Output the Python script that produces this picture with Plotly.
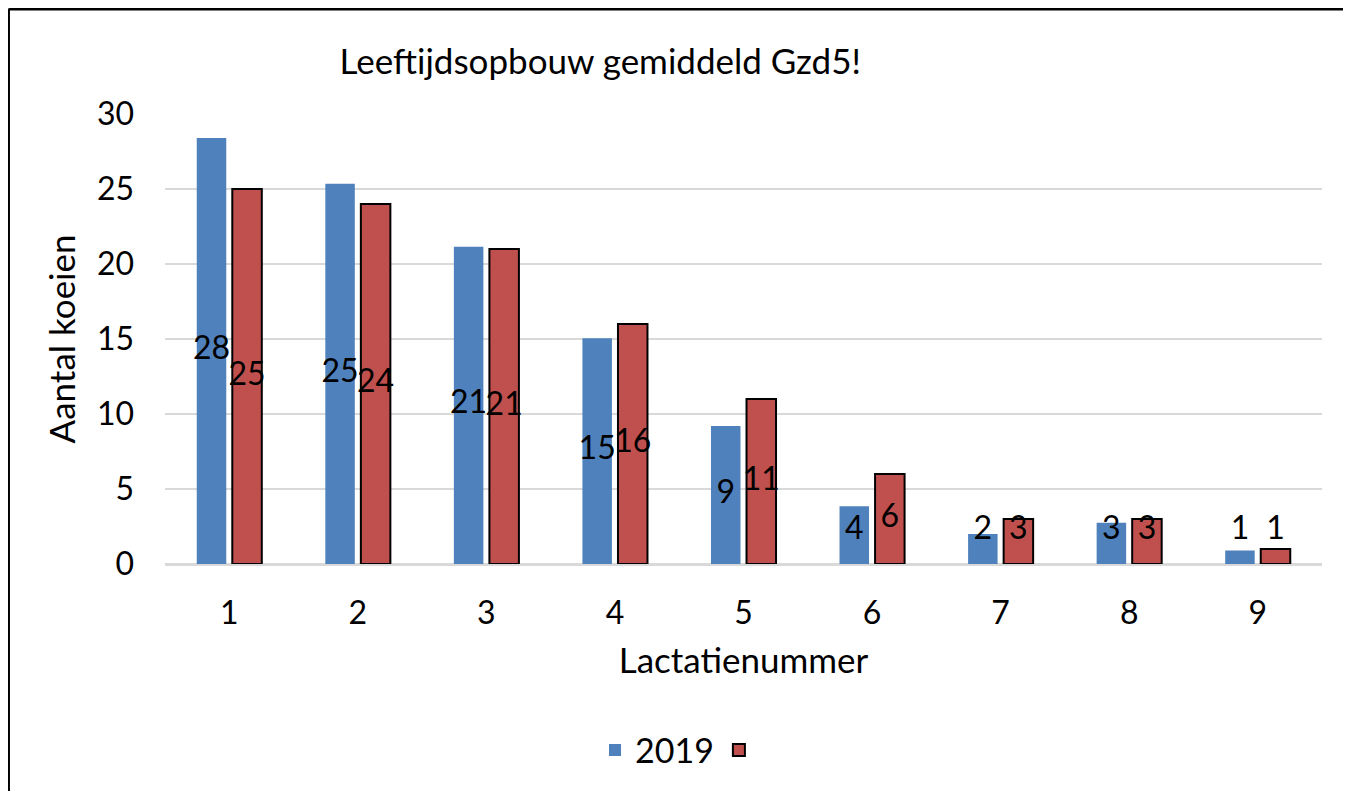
import numpy as np
import plotly.graph_objects as go

categories = ["1", "2", "3", "4", "5", "6", "7", "8", "9"]
values_2019 = [28.4, 25.35, 21.15, 15.05, 9.2, 3.85, 2.0, 2.75, 0.9]
values_other = [25, 24, 21, 16, 11, 6, 3, 3, 1]
y_ticks = [0, 5, 10, 15, 20, 25, 30]

FONT = "Lato"
BLUE = "#4F81BD"
RED = "#C0504D"

fig = go.Figure()
fig.add_trace(go.Bar(x=categories, y=values_2019, name="2019", marker=dict(color=BLUE, line=dict(width=0)),
                     offsetgroup="a", hoverinfo="skip"))
fig.add_trace(go.Bar(x=categories, y=values_other, name="", marker=dict(color=RED, line=dict(color="black", width=2)),
                     offsetgroup="b", hoverinfo="skip"))

# data labels, centred in bar but kept above a minimum height
for vals, grp in ((values_2019, "a"), (values_other, "b")):
    arr = np.array(vals, dtype=float)
    fig.add_trace(go.Scatter(x=categories, y=np.maximum(arr / 2, 2.2), mode="text",
                             text=[f"{v:.0f}" for v in arr], offsetgroup=grp,
                             textfont=dict(family=FONT, size=32, color="black"),
                             showlegend=False, hoverinfo="skip"))

fig.update_layout(
    barmode="group", bargap=0.447, bargroupgap=0.17,
    scattermode="group", scattergap=0.447,
    width=1343, height=783,
    margin=dict(l=157, r=29, t=106, b=227),
    plot_bgcolor="white", paper_bgcolor="white",
    font=dict(family=FONT, size=32, color="black"),
    title=dict(text="Leeftijdsopbouw gemiddeld Gzd5!", xref="container", x=0.441, xanchor="center",
               yref="container", y=0.931, yanchor="middle", font=dict(family=FONT, size=35, color="black")),
    legend=dict(orientation="h", xref="container", x=0.5, xanchor="center", yref="container",
                y=0.052, yanchor="middle", font=dict(family=FONT, size=34), bgcolor="rgba(0,0,0,0)"),
    showlegend=True,
)
fig.update_xaxes(showline=True, linecolor="#d9d9d9", linewidth=2, showgrid=False,
                 tickfont=dict(family=FONT, size=32), ticklabelstandoff=20,
                 title=dict(text="Lactatienummer", font=dict(family=FONT, size=35), standoff=18))
fig.update_yaxes(range=[0, 30], tickvals=y_ticks, showgrid=True, gridcolor="#d9d9d9", gridwidth=2,
                 zeroline=True, zerolinecolor="#d9d9d9", zerolinewidth=2, showline=False,
                 tickfont=dict(family=FONT, size=32), ticklabelstandoff=30,
                 title=dict(text="Aantal koeien", font=dict(family=FONT, size=35), standoff=10))

# outer frame of the chart
fig.add_shape(type="line", xref="paper", yref="paper", x0=-0.1353, x1=-0.1353, y0=-0.6, y1=1.2333,
              line=dict(color="black", width=3))
fig.add_shape(type="line", xref="paper", yref="paper", x0=-0.1353, x1=1.0234, y0=1.2333, y1=1.2333,
              line=dict(color="black", width=3))
fig.add_shape(type="line", xref="paper", yref="paper", x0=1.0234, x1=1.0234, y0=-0.6, y1=1.2333,
              line=dict(color="#707070", width=2))

fig.write_html("out.html")
